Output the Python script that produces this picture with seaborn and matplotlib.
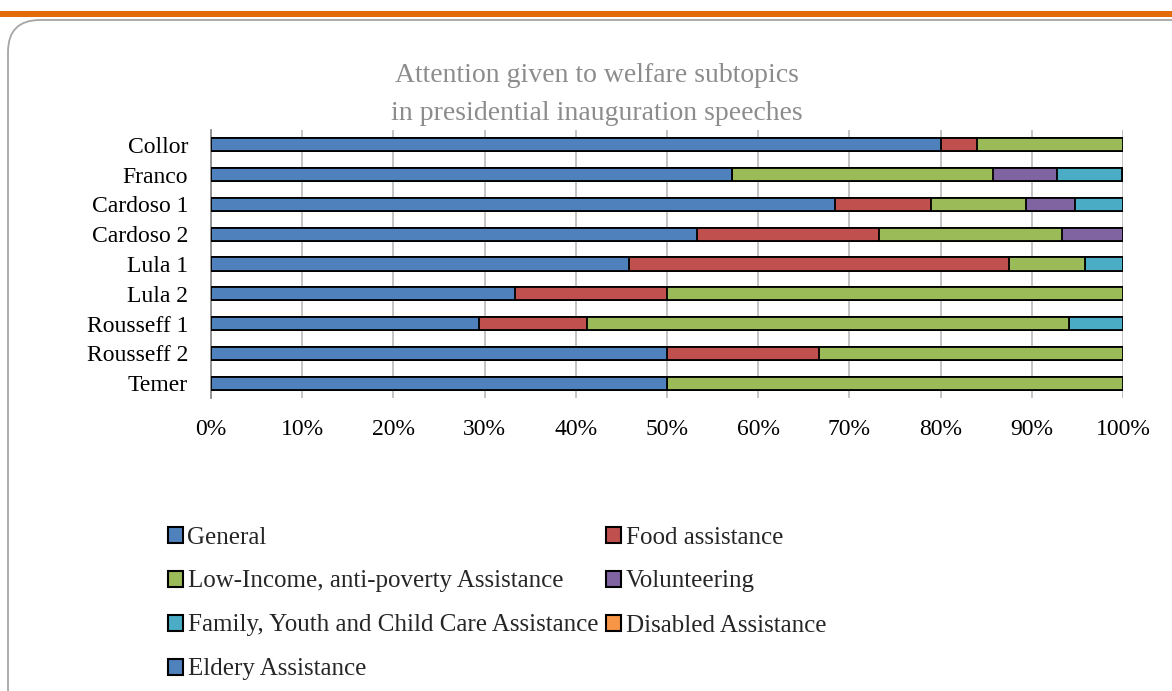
import pandas as pd
import matplotlib.pyplot as plt
import seaborn as sns
from matplotlib.patches import Patch, FancyBboxPatch, Rectangle

speeches = ['Collor', 'Franco', 'Cardoso 1', 'Cardoso 2', 'Lula 1', 'Lula 2',
            'Rousseff 1', 'Rousseff 2', 'Temer']
general = [80.0, 57.1, 68.4, 53.3, 45.8, 33.3, 29.4, 50.0, 50.0]
food = [4.0, 0.0, 10.5, 20.0, 41.7, 16.7, 11.8, 16.7, 0.0]
low_income = [16.0, 28.6, 10.5, 20.0, 8.3, 50.0, 52.9, 33.3, 50.0]
volunteering = [0.0, 7.1, 5.3, 6.7, 0.0, 0.0, 0.0, 0.0, 0.0]
family = [0.0, 7.1, 5.3, 0.0, 4.2, 0.0, 5.9, 0.0, 0.0]
disabled = [0.0] * 9
eldery = [0.0] * 9

subtopics = ['General', 'Food assistance', 'Low-Income, anti-poverty Assistance',
             'Volunteering', 'Family, Youth and Child Care Assistance',
             'Disabled Assistance', 'Eldery Assistance']
colors = ['#4F81BD', '#C0504D', '#9BBB59', '#8064A2', '#4BACC6', '#F79646', '#4F81BD']

df = pd.DataFrame({'speech': speeches, 'General': general, 'Food assistance': food,
                   'Low-Income, anti-poverty Assistance': low_income,
                   'Volunteering': volunteering,
                   'Family, Youth and Child Care Assistance': family,
                   'Disabled Assistance': disabled, 'Eldery Assistance': eldery})
# cumulative totals, drawn back to front so each segment covers the next
cum = df[subtopics].cumsum(axis=1)
cum['speech'] = df['speech']

sns.set_style('white')
plt.rcParams['font.family'] = ['Liberation Serif', 'DejaVu Serif']

fig = plt.figure(figsize=(11.72, 6.91), dpi=100)
ax = fig.add_axes([211 / 1172, 1 - 398 / 691, 912 / 1172, 268 / 691])

for name, col in reversed(list(zip(subtopics, colors))):
    sns.barplot(data=cum, x=name, y='speech', order=speeches, color=col,
                width=0.44, edgecolor='black', linewidth=1.3, saturation=1,
                orient='h', ax=ax, zorder=3)

ax.set_xlim(0, 100)
ax.set_xticks(range(0, 101, 10))
ax.set_xticklabels([f'{v}%' for v in range(0, 101, 10)])
ax.grid(axis='x', color='#BFBFBF', linewidth=1.3, zorder=0)
ax.set_axisbelow(True)
for s in ['top', 'right', 'bottom']:
    ax.spines[s].set_visible(False)
ax.spines['left'].set_color('#8C8C8C')
ax.spines['left'].set_linewidth(1.3)
ax.tick_params(axis='both', length=0, labelsize=17, colors='black')
ax.tick_params(axis='x', pad=15)
ax.tick_params(axis='y', pad=16.5)
ax.set_xlabel('')
ax.set_ylabel('')

fig.text(0.509, 1 - 75 / 691, 'Attention given to welfare subtopics', ha='center',
         va='center', fontsize=20, color='#8C8C8C')
fig.text(0.509, 1 - 113 / 691, 'in presidential inauguration speeches', ha='center',
         va='center', fontsize=20, color='#8C8C8C')

# legend filled column-wise, so reorder to match the row-wise reference
order = [0, 2, 4, 6, 1, 3, 5]
handles = [Patch(facecolor=colors[i], edgecolor='black', linewidth=1.5, label=subtopics[i])
           for i in order]
fig.legend(handles=handles, ncol=2, loc='upper left',
           bbox_to_anchor=(145 / 1172, 1 - 504 / 691), frameon=False, fontsize=18,
           handlelength=0.6, handleheight=0.6, handletextpad=0.2,
           labelspacing=0.88, columnspacing=0.3)

fig.add_artist(Rectangle((0, 1 - 17 / 691), 1, 6 / 691, transform=fig.transFigure,
                         facecolor='#E36C0A', edgecolor='none'))
fig.add_artist(FancyBboxPatch((8, -30), 1200, 701, transform=None,
                              boxstyle='round,pad=0,rounding_size=32',
                              facecolor='none', edgecolor='#A6A6A6', linewidth=1.3))

plt.savefig('out.png', dpi=100)
plt.close()
